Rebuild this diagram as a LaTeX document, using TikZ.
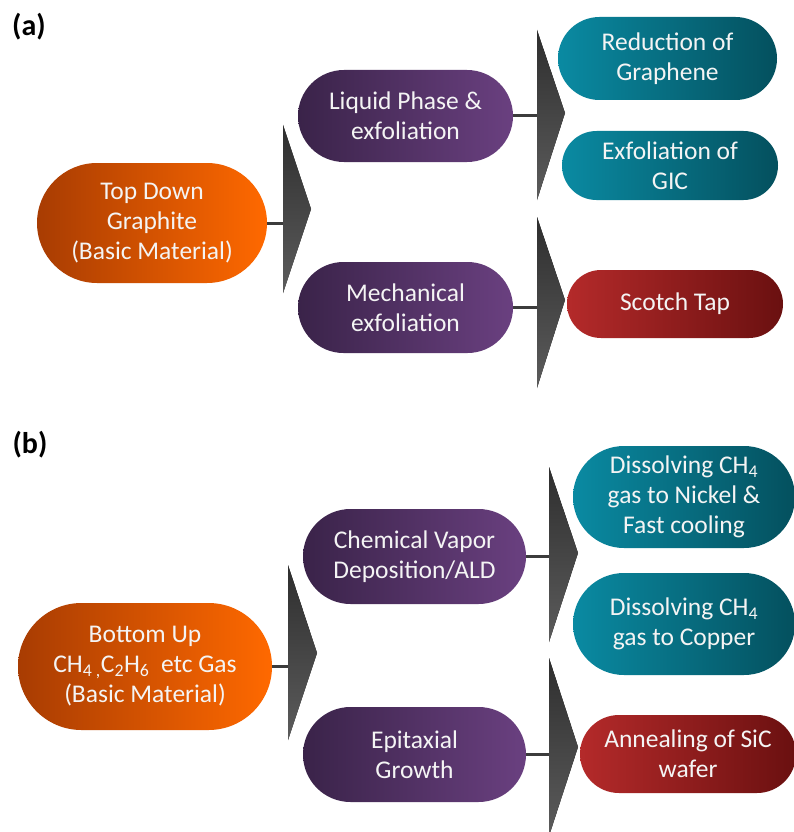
\documentclass[tikz,border=0pt]{standalone}
\usepackage{fontspec}
\setmainfont{Carlito}
\definecolor{orL}{HTML}{A83C02}
\definecolor{orR}{HTML}{FF6900}
\definecolor{puL}{HTML}{3A2349}
\definecolor{puR}{HTML}{6A4080}
\definecolor{teL}{HTML}{0A8AA2}
\definecolor{teR}{HTML}{04505E}
\definecolor{reL}{HTML}{B42A2A}
\definecolor{reR}{HTML}{6A1010}
\definecolor{txt}{HTML}{F4F4F4}
\definecolor{lin}{HTML}{3C3C3C}
\definecolor{trT}{HTML}{2E2E2E}
\definecolor{trB}{HTML}{5C5C5C}
\tikzset{
  pill/.style n args={4}{rectangle, inner sep=0pt, minimum width=#1, minimum height=#2,
     rounded corners=#2/2, left color=#3, right color=#4, text=txt, align=center,
     font=\fontsize{25.5}{30}\selectfont},
  conn/.style={draw=lin, line width=3pt},
  tri/.style={top color=trT, bottom color=trB, draw=none},
  plabel/.style={font=\fontsize{30}{34}\selectfont\bfseries, text=black, inner sep=0pt}
}
\begin{document}
\begin{tikzpicture}[x=1pt,y=-1pt]
\useasboundingbox (0,0) rectangle (793,832);
\fill[white] (0,0) rectangle (793,832);

% ---------- (a) ----------
\node[plabel] (la) at (29,27) {(a)};

\node[pill={230pt}{120pt}{orL}{orR}] (td) at (152,223) {Top Down\\Graphite\\(Basic Material)};
\node[pill={215pt}{92pt}{puL}{puR}] (lp) at (405.5,116) {Liquid Phase \&\\exfoliation};
\node[pill={215pt}{91pt}{puL}{puR}] (me) at (405.5,307.5) {Mechanical\\exfoliation};
\node[pill={219pt}{83pt}{teL}{teR}] (rg) at (667.5,58.5) {Reduction of\\Graphene};
\node[pill={216pt}{69pt}{teL}{teR}] (eg) at (670,165.5) {Exfoliation of\\GIC};
\node[pill={216pt}{68pt}{reL}{reR}] (st) at (675,304) {Scotch Tap};

% triangles (a)
\coordinate (t1) at (283,223);
\coordinate (t2) at (537,116);
\coordinate (t3) at (537,307.5);
\fill[tri] (283,125) -- (311,209) -- (283,293) -- cycle;
\fill[tri] (537,30) -- (565,113) -- (537,200) -- cycle;
\fill[tri] (537,217) -- (565,300) -- (537,388) -- cycle;

\draw[conn] (td.east) -- (t1);
\draw[conn] (lp.east) -- (t2);
\draw[conn] (me.east) -- (t3);

% ---------- (b) ----------
\node[plabel] (lb) at (30,445) {(b)};

\node[pill={254pt}{127pt}{orL}{orR}] (bu) at (145,666.5)
  {Bottom Up\\CH\textsubscript{4 ,}C\textsubscript{2}H\textsubscript{6}\ \ etc Gas\\(Basic Material)};
\node[pill={223pt}{95pt}{puL}{puR}] (cvd) at (414.5,556.5) {Chemical Vapor\\Deposition/ALD};
\node[pill={223pt}{95pt}{puL}{puR}] (ep) at (414.5,754.5) {Epitaxial\\Growth};
\node[pill={222pt}{102pt}{teL}{teR}] (dn) at (684,497) {Dissolving CH\textsubscript{4}\\gas to Nickel \&\\Fast cooling};
\node[pill={222pt}{102pt}{teL}{teR}] (dc) at (684,624) {Dissolving CH\textsubscript{4}\\gas to Copper};
\node[pill={216pt}{78pt}{reL}{reR}] (an) at (688,754) {Annealing of SiC\\wafer};

\coordinate (t4) at (288,666.5);
\coordinate (t5) at (549,556.5);
\coordinate (t6) at (549,754.5);
\fill[tri] (288,565) -- (317,653) -- (288,740) -- cycle;
\fill[tri] (549,467) -- (578,553) -- (549,642) -- cycle;
\fill[tri] (549,658) -- (578,747) -- (549,836) -- cycle;

\draw[conn] (bu.east) -- (t4);
\draw[conn] (cvd.east) -- (t5);
\draw[conn] (ep.east) -- (t6);
\end{tikzpicture}
\end{document}
